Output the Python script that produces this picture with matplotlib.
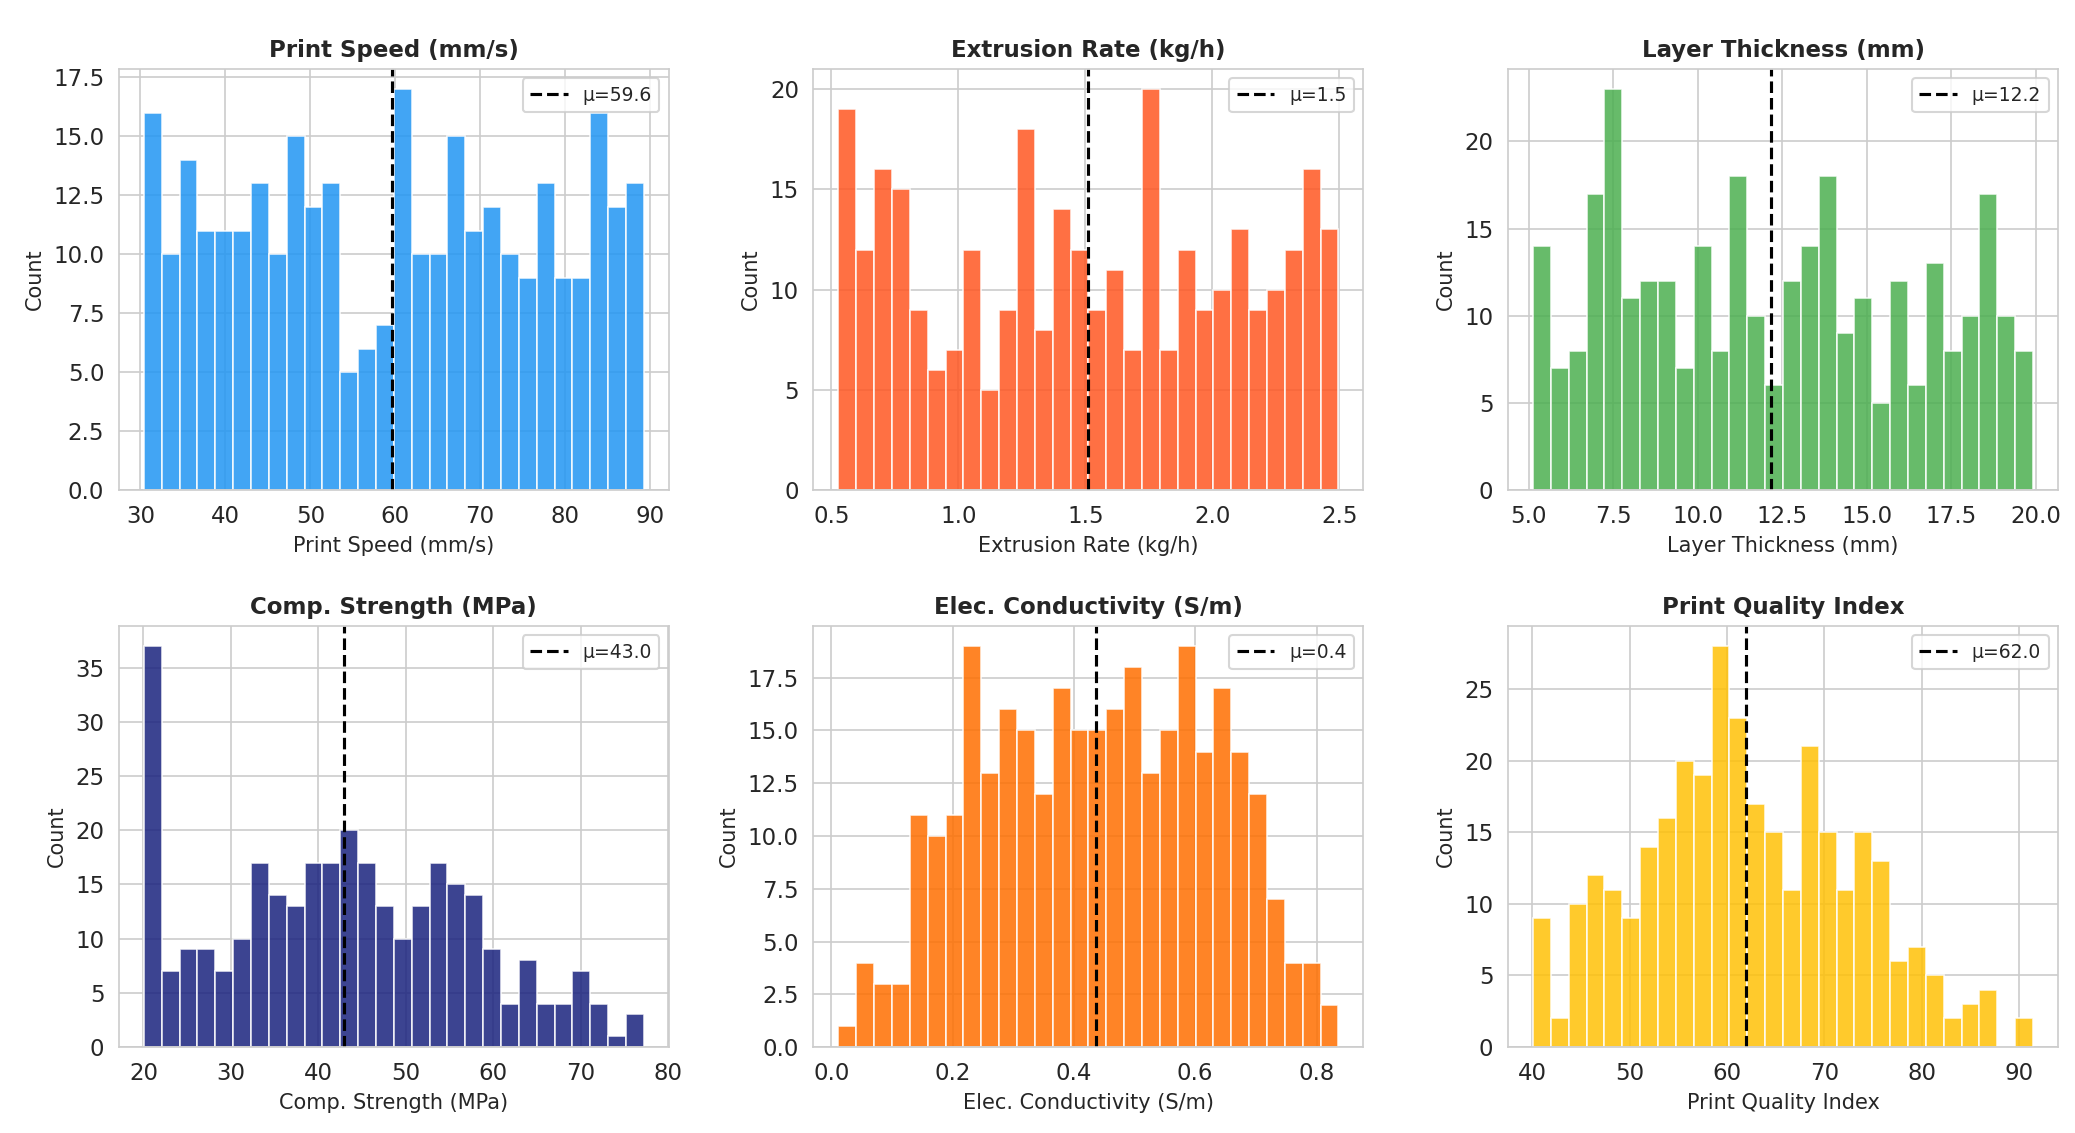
import matplotlib
matplotlib.use("Agg")
import matplotlib.pyplot as plt
from matplotlib.ticker import MultipleLocator
import seaborn as sns
import numpy as np

sns.set_style("whitegrid")
plt.rcParams['font.family'] = ['DejaVu Sans']

# --- data: histogram counts (28 bins each) ---
titles = ['Print Speed (mm/s)', 'Extrusion Rate (kg/h)', 'Layer Thickness (mm)',
          'Comp. Strength (MPa)', 'Elec. Conductivity (S/m)', 'Print Quality Index']

speed_counts = [16, 10, 14, 11, 11, 11, 13, 10, 15, 12, 13, 5, 6, 7,
                17, 10, 10, 15, 11, 12, 10, 9, 13, 9, 9, 16, 12, 13]
extrusion_counts = [19, 12, 16, 15, 9, 6, 7, 12, 5, 9, 18, 8, 14, 12,
                    9, 11, 7, 20, 7, 12, 9, 10, 13, 9, 10, 12, 16, 13]
layer_counts = [14, 7, 8, 17, 23, 11, 12, 12, 7, 14, 8, 18, 10, 6,
                12, 14, 18, 9, 11, 5, 12, 6, 13, 8, 10, 17, 10, 8]
strength_counts = [37, 7, 9, 9, 7, 10, 17, 14, 13, 17, 17, 20, 17, 13,
                   10, 13, 17, 15, 14, 9, 4, 8, 4, 4, 7, 4, 1, 3]
conductivity_counts = [1, 4, 3, 3, 11, 10, 11, 19, 13, 16, 15, 12, 17, 15,
                       15, 16, 18, 13, 15, 19, 14, 17, 14, 12, 7, 4, 4, 2]
quality_counts = [9, 2, 10, 12, 11, 9, 14, 16, 20, 19, 28, 23, 17, 15,
                  11, 21, 15, 11, 15, 13, 6, 7, 5, 2, 3, 4, 0, 2]

# min / max of each variable (outer bin edges)
bin_ranges = [(30.4, 89.3), (0.528, 2.497), (5.13, 19.92),
              (20.05, 77.2), (0.012, 0.836), (40.1, 91.4)]
means = [59.6, 1.51, 12.18, 42.95, 0.437, 61.95]

# y tick step of each panel
y_steps = [2.5, 5, 5, 5, 2.5, 5]

colors = ['#2196F3', '#FF5722', '#4CAF50', '#1A237E', '#FF6F00', '#FFC107']

all_counts = [speed_counts, extrusion_counts, layer_counts,
              strength_counts, conductivity_counts, quality_counts]

fig, axes = plt.subplots(2, 3, figsize=(2075 / 150, 1133 / 150), dpi=150)
fig.subplots_adjust(left=0.0573, right=0.9918, top=0.939, bottom=0.0759,
                    wspace=0.263, hspace=0.323)

for ax, title, counts, (lo, hi), mu, col, step in zip(
        axes.flat, titles, all_counts, bin_ranges, means, colors, y_steps):
    edges = np.linspace(lo, hi, len(counts) + 1)
    ax.bar(edges[:-1], counts, width=np.diff(edges), align='edge',
           color=col, alpha=0.85, edgecolor='white', linewidth=0.8)
    ax.axvline(mu, color='black', linestyle='--', linewidth=1.5,
               label=f'μ={mu:.1f}')
    ax.set_title(title, fontsize=11, fontweight='bold')
    ax.set_xlabel(title, fontsize=10)
    ax.set_ylabel('Count', fontsize=10)
    ax.yaxis.set_major_locator(MultipleLocator(step))
    ax.tick_params(labelsize=11)
    ax.legend(loc='upper right', fontsize=9)
    ax.set_axisbelow(True)

fig.savefig('out.png', dpi=150)
